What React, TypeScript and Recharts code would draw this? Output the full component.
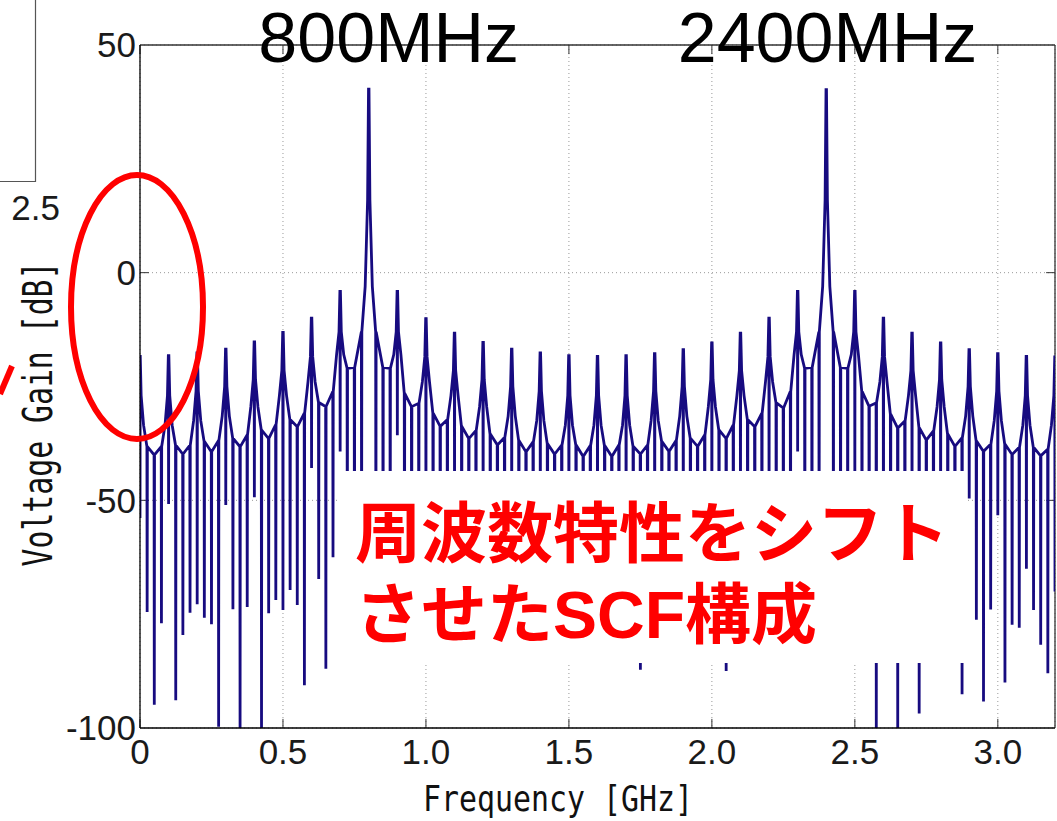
import { LineChart, Line, XAxis, YAxis, CartesianGrid, ReferenceLine } from "recharts";

// gain at the resonance peaks, every 0.1 GHz from 0 to 3.2 GHz [dB]
const peakGain = [
  -18.1, -17.9, -17.3, -16.5, -14.9, -12.8, -9.7, -3.8, 40.3, -3.8, -9.8,
  -13.0, -15.0, -16.5, -17.3, -17.9, -18.1, -17.9, -17.5, -16.6, -15.1, -13.0,
  -9.7, -3.8, 40.2, -3.8, -9.7, -13.0, -15.1, -16.6, -17.5, -18.1, -18.2,
];
// spike flanks just beside each peak (inner ~4 MHz, outer ~12.5 MHz)
const peakInner = [
  -27, -27, -26, -25, -23.5, -21.5, -18.5, -13, 16, -13, -18.5, -21.5, -23.5,
  -25, -26, -27, -27, -27, -26, -25, -23.5, -21.5, -18.5, -13, 16, -13, -18.5,
  -21.5, -23.5, -25, -26, -27, -27,
];
const peakOuter = [
  -33.5, -33.5, -32.5, -31.5, -29.5, -27, -24, -18, -3, -18, -24, -27, -29.5,
  -31.5, -32.5, -33.5, -33.5, -33.5, -32.5, -31.5, -29.5, -27, -24, -18, -3,
  -18, -24, -27, -29.5, -31.5, -32.5, -33.5, -33.5,
];
// notch depth right at each peak frequency (null = no notch)
const peakNotch: (number | null)[] = [
  -53.9, -50.8, -72.8, -51.0, -49.3, -74.1, -42.9, -39.3, null, -35.7, -55,
  -52, -55, -56, -58, -60, -62, -63, -64, -62, -60, -57, -54, -39.3, null,
  -46, -72, -56, -58, -49.6, -53.3, -65.0, -70,
];
// curve level between peaks at +25, +50, +75 MHz [dB]
const gapGain = [
  [-38.2, -40.0, -38.2], [-37.9, -39.8, -37.9], [-37.1, -39.3, -36.9],
  [-36.4, -38.2, -35.7], [-34.6, -36.4, -33.4], [-32.3, -33.8, -30.9],
  [-28.5, -29.4, -26.1], [-21.0, -20.8, -13.0], [-13.0, -20.8, -21.0],
  [-26.5, -29.4, -28.7], [-30.9, -33.7, -32.3], [-33.8, -36.4, -34.7],
  [-35.5, -37.8, -36.2], [-36.9, -39.3, -37.2], [-37.6, -39.8, -37.9],
  [-37.9, -40.3, -38.0], [-38.0, -40.3, -37.9], [-38.2, -39.8, -37.9],
  [-37.1, -39.2, -36.9], [-36.4, -38.1, -35.7], [-34.6, -36.4, -33.5],
  [-32.3, -33.8, -30.9], [-28.6, -29.7, -26.1], [-21.0, -20.8, -13.0],
  [-13.0, -20.8, -21.0], [-26.1, -29.3, -28.6], [-31.1, -34.1, -32.6],
  [-34.1, -36.7, -34.8], [-35.5, -38.1, -36.3], [-37.0, -39.2, -37.7],
  [-37.7, -39.9, -38.4], [-38.4, -40.2, -38.8],
];
// notch depth at +25, +50, +75 MHz [dB]
const gapNotch = [
  [-74.5, -94.9, -77.0], [-93.9, -79.6, -74.7], [-75.8, -77.2, -99.7],
  [-73.9, -100, -73.4], [-100, -74.8, -71.9], [-69.7, -73.0, -90.6],
  [-67.3, -87.0, -62.5], [-70, -75, -68], [-68, -75, -70],
  [-72, -78, -66], [-74, -80, -70], [-73, -79, -71],
  [-74, -78, -72], [-75, -80, -73], [-74, -79, -72],
  [-75, -80, -74], [-76, -80, -74], [-76, -87.2, -75],
  [-74, -80, -75], [-75, -79, -73], [-74, -87.5, -72],
  [-73, -78, -71], [-72, -77, -69], [-68, -74, -66],
  [-66, -74, -68], [-70, -76, -100], [-78, -100, -74],
  [-96.8, -75, -80], [-74, -79, -92.6], [-76.2, -94.2, -74.0],
  [-90.0, -77.3, -78.0], [-74.1, -81.7, -88.0],
];

const xTicks = [0, 0.5, 1.0, 1.5, 2.0, 2.5, 3.0];
const yTicks = [-100, -50, 0, 50];
const sideTicks = [0, -50];

const PEAK_STEP = 0.1;
const GAP_STEP = 0.025;
const INNER = 0.004;
const OUTER = 0.0125;
const EPS = 0.0008;
const LINE = "#170b80";

function buildCurve() {
  const pts: { f: number; v: number }[] = [];
  const push = (f: number, v: number) => pts.push({ f: +f.toFixed(5), v });
  const last = peakGain.length - 1;
  peakGain.forEach((p, k) => {
    const f0 = k * PEAK_STEP;
    if (k > 0) {
      push(f0 - OUTER, peakOuter[k]);
      push(f0 - INNER, peakInner[k]);
      push(f0 - EPS, p);
    }
    const n = peakNotch[k];
    push(f0, n === null ? p : n);
    if (k < last) {
      push(f0 + EPS, p);
      push(f0 + INNER, peakInner[k]);
      push(f0 + OUTER, peakOuter[k]);
      gapGain[k].forEach((g, j) => {
        const f = f0 + (j + 1) * GAP_STEP;
        push(f - EPS, g);
        push(f, gapNotch[k][j]);
        push(f + EPS, g);
      });
    }
  });
  return pts;
}

const curve = buildCurve();
const tickFont = { fontSize: 35, fill: "#1a1a1a", fontFamily: "Liberation Sans, Arial, sans-serif" };

export default function App() {
  return (
    <div style={{ position: "absolute", left: 0, top: 0, width: 1057, height: 821, background: "#fff", overflow: "hidden" }}>
      <LineChart width={1057} height={821} data={curve} margin={{ top: 45, right: 2, bottom: 33, left: 80 }}>
        <CartesianGrid stroke="#999" strokeDasharray="1 3" />
        <XAxis
          type="number"
          dataKey="f"
          domain={[0, 3.2]}
          ticks={xTicks}
          interval={0}
          allowDataOverflow
          height={60}
          tick={tickFont}
          tickLine={false}
          tickSize={6}
          tickMargin={5}
          tickFormatter={(v: number) => (v === 0 ? "0" : v.toFixed(1))}
          axisLine={{ stroke: "#000", strokeWidth: 1.3 }}
        />
        <YAxis
          type="number"
          dataKey="v"
          domain={[-100, 50]}
          ticks={yTicks}
          interval={0}
          allowDataOverflow
          width={60}
          tick={tickFont}
          tickLine={false}
          tickSize={4}
          tickMargin={0}
          axisLine={{ stroke: "#000", strokeWidth: 1.3 }}
        />
        <ReferenceLine y={50} stroke="#333" strokeWidth={1.3} ifOverflow="visible" />
        <ReferenceLine x={3.2} stroke="#333" strokeWidth={1.3} ifOverflow="visible" />
        {xTicks.map((t) => (
          <ReferenceLine key={"b" + t} segment={[{ x: t, y: -100 }, { x: t, y: -98 }]} stroke="#333" ifOverflow="visible" />
        ))}
        {xTicks.map((t) => (
          <ReferenceLine key={"t" + t} segment={[{ x: t, y: 50 }, { x: t, y: 48 }]} stroke="#333" ifOverflow="visible" />
        ))}
        {sideTicks.map((t) => (
          <ReferenceLine key={"l" + t} segment={[{ x: 0, y: t }, { x: 0.031, y: t }]} stroke="#333" ifOverflow="visible" />
        ))}
        {sideTicks.map((t) => (
          <ReferenceLine key={"r" + t} segment={[{ x: 3.169, y: t }, { x: 3.2, y: t }]} stroke="#333" ifOverflow="visible" />
        ))}
        <Line
          type="linear"
          dataKey="v"
          stroke={LINE}
          strokeWidth={2.8}
          dot={false}
          activeDot={false}
          isAnimationActive={false}
        />
      </LineChart>

      <svg width={1057} height={821} style={{ position: "absolute", left: 0, top: 0, pointerEvents: "none" }}>
        {/* leftover frame of a neighbouring plot */}
        <polyline points="0,181.5 35.5,181.5 35.5,0" fill="none" stroke="#555" strokeWidth={1.2} />
        <text x={60} y={220} textAnchor="end" fontSize={35} fill="#1a1a1a" fontFamily="Liberation Sans, Arial, sans-serif">
          2.5
        </text>
        <line x1={0} y1={394} x2={12} y2={366} stroke="#ff0000" strokeWidth={6} />

        <text
          transform="translate(52,414) rotate(-90)"
          textAnchor="middle"
          fontSize={41}
          fontFamily="DejaVu Sans Mono, monospace"
          fill="#111"
          textLength={305}
          lengthAdjust="spacingAndGlyphs"
        >
          Voltage Gain [dB]
        </text>
        <text
          x={558}
          y={811}
          textAnchor="middle"
          fontSize={36}
          fontFamily="DejaVu Sans Mono, monospace"
          fill="#111"
          textLength={270}
          lengthAdjust="spacingAndGlyphs"
        >
          Frequency [GHz]
        </text>

        <text x={388.7} y={62} textAnchor="middle" fontSize={70} fill="#000" fontFamily="Liberation Sans, Arial, sans-serif">
          800MHz
        </text>
        <text x={827.5} y={62} textAnchor="middle" fontSize={70} fill="#000" fontFamily="Liberation Sans, Arial, sans-serif">
          2400MHz
        </text>

        <ellipse cx={137} cy={307} rx={66} ry={132} fill="none" stroke="#ff0000" strokeWidth={6} />

        <rect x={339} y={471} width={627} height={192} fill="#fff" />
        <text x={355} y={557} fontSize={66} fontWeight={700} fill="#ff0000" fontFamily="Noto Sans CJK JP, sans-serif">
          周波数特性をシフト
        </text>
        <text x={355} y={638} fontSize={66} fontWeight={700} fill="#ff0000" fontFamily="Noto Sans CJK JP, sans-serif">
          させた
          <tspan fontFamily="Liberation Sans, Arial, sans-serif">SCF</tspan>
          構成
        </text>
      </svg>
    </div>
  );
}
